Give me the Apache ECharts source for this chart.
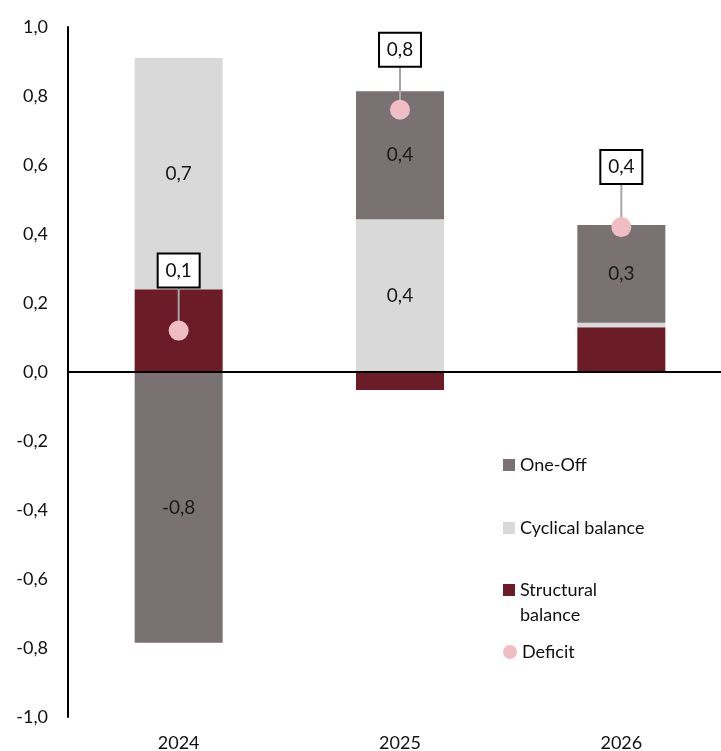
<!DOCTYPE html>
<html>
<head>
<meta charset="utf-8">
<style>
  html, body { margin: 0; padding: 0; background: #fff; overflow: hidden; }
  #chart { width: 721px; height: 751px; }
</style>
<script src="https://cdn.jsdelivr.net/npm/echarts@6/dist/echarts.min.js"></script>
</head>
<body>
<div id="chart"></div>
<script>
// Budget balance decomposition by year
const years = ['2024', '2025', '2026'];
const structuralBalance = [0.24, -0.052, 0.13];
const cyclicalBalance = [0.67, 0.443, 0.013];
const oneOff = [-0.785, 0.371, 0.283];
const deficit = [0.12, 0.76, 0.42];
const yTicks = { min: -1, max: 1, step: 0.2 };

const FONT = 'Lato, "Open Sans", sans-serif';
const fmt = v => v.toFixed(1).replace('.', ',');

const chart = echarts.init(document.getElementById('chart'), null, { renderer: 'canvas' });

const barLabel = {
  show: true,
  position: 'inside',
  fontFamily: FONT,
  fontSize: 19,
  color: '#1a1a1a',
  formatter: p => fmt(p.value)
};

function legendFor(name, top, icon, size) {
  return {
    data: [{ name: name, icon: icon }],
    left: 503,
    top: top,
    padding: 0,
    itemWidth: size,
    itemHeight: size,
    itemGap: 0,
    selectedMode: false,
    formatter: n => n === 'Structural balance' ? 'Structural' : n,
    textStyle: { fontFamily: FONT, fontSize: 18, color: '#111', padding: [0, 0, 0, 0] }
  };
}

const option = {
  animation: false,
  backgroundColor: '#ffffff',
  // the plot area runs a little past the right edge of the canvas
  grid: {
    left: 68, width: 664, top: 27, bottom: 34,
    containLabel: false, outerBoundsMode: 'none'
  },
  legend: [
    legendFor('One-Off', 456, 'rect', 12),
    legendFor('Cyclical balance', 519, 'rect', 12),
    legendFor('Structural balance', 581, 'rect', 12),
    legendFor('Deficit', 643, 'circle', 14)
  ],
  graphic: [{
    type: 'text',
    left: 520,
    top: 606,
    style: { text: 'balance', fontFamily: FONT, fontSize: 18, fill: '#111' }
  }],
  xAxis: {
    type: 'category',
    data: years,
    axisLine: { show: false },
    axisTick: { show: false },
    axisLabel: { fontFamily: FONT, fontSize: 18, color: '#111', margin: 17 }
  },
  yAxis: {
    type: 'value',
    min: yTicks.min,
    max: yTicks.max,
    interval: yTicks.step,
    axisLine: { show: true, lineStyle: { color: '#000', width: 2 } },
    axisTick: { show: false },
    splitLine: { show: false },
    axisLabel: {
      fontFamily: FONT, fontSize: 18, color: '#111', margin: 20,
      formatter: v => fmt(v)
    }
  },
  series: [
    {
      name: 'Structural balance',
      type: 'bar',
      stack: 'total',
      barWidth: 88,
      data: structuralBalance,
      itemStyle: { color: '#6b1c26' },
      markLine: {
        silent: true,
        symbol: 'none',
        label: { show: false },
        lineStyle: { color: '#000', width: 2, type: 'solid' },
        data: [{ yAxis: 0 }]
      }
    },
    {
      name: 'Cyclical balance',
      type: 'bar',
      stack: 'total',
      barWidth: 88,
      data: cyclicalBalance,
      itemStyle: { color: '#d9d9d9' },
      label: Object.assign({}, barLabel, {
        formatter: p => Math.abs(p.value) < 0.05 ? '' : fmt(p.value)
      })
    },
    {
      name: 'One-Off',
      type: 'bar',
      stack: 'total',
      barWidth: 88,
      data: oneOff,
      itemStyle: { color: '#797172' },
      label: barLabel
    },
    {
      // callout boxes with leader lines for the deficit values
      name: 'deficit-callout',
      type: 'custom',
      data: deficit.map((v, i) => [i, v]),
      z: 3,
      renderItem: function (params, api) {
        const pt = api.coord([api.value(0), api.value(1)]);
        const boxH = 34, boxW = 42, rise = 60;
        const cy = pt[1] - rise;
        return {
          type: 'group',
          children: [
            {
              type: 'line',
              shape: { x1: pt[0], y1: pt[1], x2: pt[0], y2: cy + boxH / 2 },
              style: { stroke: '#a6a6a6', lineWidth: 2 }
            },
            {
              type: 'rect',
              shape: { x: pt[0] - boxW / 2, y: cy - boxH / 2, width: boxW, height: boxH },
              style: { fill: '#fff', stroke: '#000', lineWidth: 2 }
            },
            {
              type: 'text',
              x: pt[0],
              y: cy,
              style: {
                text: fmt(api.value(1)),
                fontFamily: FONT, fontSize: 19, fill: '#111',
                align: 'center', verticalAlign: 'middle'
              }
            }
          ]
        };
      }
    },
    {
      name: 'Deficit',
      type: 'scatter',
      data: deficit,
      symbol: 'circle',
      symbolSize: 20,
      z: 4,
      itemStyle: { color: '#f1bdc5', opacity: 1 }
    }
  ]
};

chart.setOption(option);
</script>
</body>
</html>
